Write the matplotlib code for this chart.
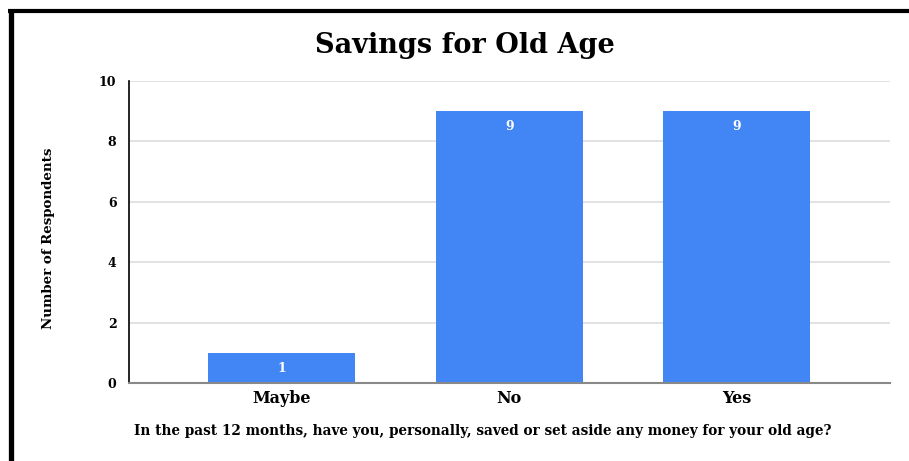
import matplotlib
matplotlib.use("Agg")
import matplotlib.pyplot as plt
from matplotlib.lines import Line2D

categories = ["Maybe", "No", "Yes"]
values = [1, 9, 9]
yticks = [0, 2, 4, 6, 8, 10]

title = "Savings for Old Age"
xlabel = "In the past 12 months, have you, personally, saved or set aside any money for your old age?"
ylabel = "Number of Respondents"

plt.rcParams['font.family'] = ['DejaVu Serif']

fig = plt.figure(figsize=(9.09, 4.61), dpi=100)
ax = fig.add_axes([0.1419, 0.1692, 0.979 - 0.1419, 0.8243 - 0.1692])

x = list(range(len(categories)))
bars = ax.bar(x, values, width=0.645, color="#4285F4", zorder=3)
for xi, v in zip(x, values):
    ax.text(xi, v - 0.3, str(v), ha="center", va="top", color="white",
            fontsize=9, fontweight="bold", zorder=4)

ax.set_xlim(-0.67, 2.672)
ax.set_ylim(0, 10)
ax.set_yticks(yticks)
ax.set_yticklabels([str(t) for t in yticks], fontsize=9, fontweight="bold")
ax.set_xticks(x)
ax.set_xticklabels(categories, fontsize=11.5, fontweight="bold")
ax.tick_params(axis="both", length=0)
ax.tick_params(axis="y", pad=9)
ax.tick_params(axis="x", pad=5)
ax.grid(axis="y", color="#dddddd", linewidth=1.2, zorder=0)

for s in ["top", "right"]:
    ax.spines[s].set_visible(False)
ax.spines["left"].set_color("black")
ax.spines["left"].set_linewidth(1.2)
ax.spines["bottom"].set_color("#888888")
ax.spines["bottom"].set_linewidth(1.5)
ax.spines["bottom"].set_zorder(5)

fig.text(0.511, 0.902, title, ha="center", va="center", fontsize=19.5, fontweight="bold")
fig.text(0.531, 0.065, xlabel, ha="center", va="center", fontsize=9.8, fontweight="bold")
fig.text(0.053, 0.482, ylabel, ha="center", va="center", rotation=90, fontsize=9.6, fontweight="bold")

# black frame (top and left)
fig.add_artist(Line2D([8/909, 1.0], [1 - 11.5/461, 1 - 11.5/461], color="black",
                      linewidth=3, transform=fig.transFigure, solid_capstyle="butt"))
fig.add_artist(Line2D([10.5/909, 10.5/909], [1 - 10/461, 0.0], color="black",
                      linewidth=3.8, transform=fig.transFigure, solid_capstyle="butt"))

fig.savefig("out.png", dpi=100)
